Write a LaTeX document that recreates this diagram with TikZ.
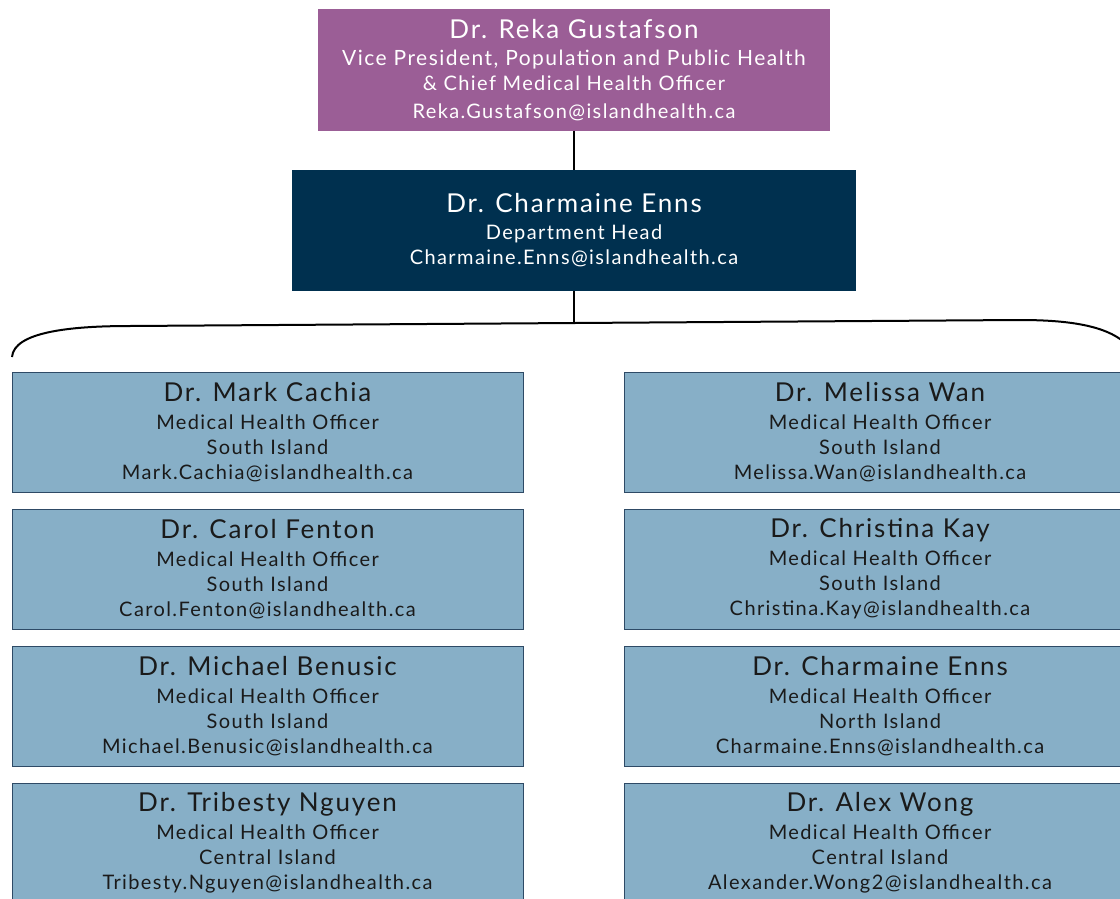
\documentclass[tikz,border=0pt]{standalone}
\usepackage{fontspec}
\setmainfont{Lato}[LetterSpace=7]
\definecolor{vpfill}{HTML}{9B5E96}
\definecolor{headfill}{HTML}{00304F}
\definecolor{mhofill}{HTML}{87AFC7}
\definecolor{mhoedge}{HTML}{2E4A66}
\definecolor{mhotext}{HTML}{1A1A1A}
\newcommand{\drname}[1]{{\fontsize{26}{29}\selectfont #1}}
\begin{document}
\begin{tikzpicture}[x=1pt,y=-1pt,
    orgbox/.style={rectangle, inner sep=0pt, align=center,
      font=\fontsize{20}{25}\selectfont},
    vpbox/.style={orgbox, fill=vpfill, text=white,
      minimum width=512pt, minimum height=121pt},
    headbox/.style={orgbox, fill=headfill, text=white,
      minimum width=564pt, minimum height=121pt},
    mhobox/.style={orgbox, fill=mhofill, draw=mhoedge, line width=0.8pt,
      text=mhotext, minimum width=511pt, minimum height=120pt}]
  \useasboundingbox (0,0) rectangle (1120,899);
  \clip (0,0) rectangle (1120,899);
  % top of the chart
  \node[vpbox] (vp) at (574,70)
    {\drname{Dr. Reka Gustafson}\\[2pt]{\fontsize{21}{25}\selectfont Vice President, Population and Public Health}\\
     \& Chief Medical Health Officer\\[3pt]Reka.Gustafson@islandhealth.ca};
  \node[headbox] (head) at (574,230.5)
    {\drname{Dr. Charmaine Enns}\\[2pt]Department Head\\Charmaine.Enns@islandhealth.ca};
  % medical health officers, left column
  \node[mhobox] (cachia) at (267.5,432)
    {\drname{Dr. Mark Cachia}\\[3pt]Medical Health Officer\\South Island\\Mark.Cachia@islandhealth.ca};
  \node[mhobox] (fenton) at (267.5,569)
    {\drname{Dr. Carol Fenton}\\[3pt]Medical Health Officer\\South Island\\Carol.Fenton@islandhealth.ca};
  \node[mhobox] (benusic) at (267.5,706)
    {\drname{Dr. Michael Benusic}\\[3pt]Medical Health Officer\\South Island\\Michael.Benusic@islandhealth.ca};
  \node[mhobox] (nguyen) at (267.5,843)
    {\drname{Dr. Tribesty Nguyen}\\[3pt]Medical Health Officer\\Central Island\\Tribesty.Nguyen@islandhealth.ca};
  % medical health officers, right column
  \node[mhobox] (wan) at (880,432)
    {\drname{Dr. Melissa Wan}\\[3pt]Medical Health Officer\\South Island\\Melissa.Wan@islandhealth.ca};
  \node[mhobox] (kay) at (880,569)
    {\drname{Dr. Christina Kay}\\[3pt]Medical Health Officer\\South Island\\Christina.Kay@islandhealth.ca};
  \node[mhobox] (enns) at (880,706)
    {\drname{Dr. Charmaine Enns}\\[3pt]Medical Health Officer\\North Island\\Charmaine.Enns@islandhealth.ca};
  \node[mhobox] (wong) at (880,843)
    {\drname{Dr. Alex Wong}\\[3pt]Medical Health Officer\\Central Island\\Alexander.Wong2@islandhealth.ca};
  % connectors
  \coordinate (join) at (574,322);
  \coordinate (braceL) at (12,357);
  \coordinate (braceR) at (1124,342);
  \begin{scope}[line width=1.5pt]
    \draw (vp) -- (head);
    \draw (head) -- (join);
    \draw[line width=2pt] (braceL) .. controls (14,332) and (70,326) .. (130,326)
      -- (1020,320) .. controls (1070,320) and (1105,326) .. (braceR);
  \end{scope}
\end{tikzpicture}
\end{document}
